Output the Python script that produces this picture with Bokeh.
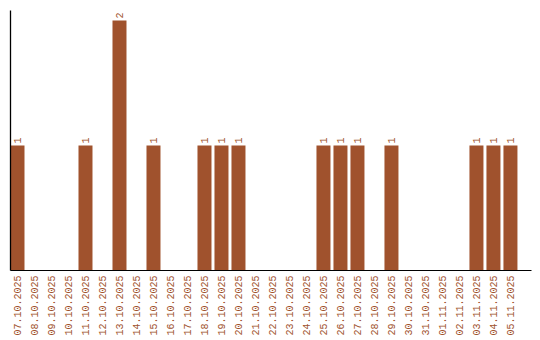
import math
from bokeh.plotting import figure
from bokeh.models import Range1d, FixedTicker, ColumnDataSource
from bokeh.core.properties import value
from bokeh.embed import file_html
from bokeh.resources import INLINE

dates = ["07.10.2025", "08.10.2025", "09.10.2025", "10.10.2025", "11.10.2025",
         "12.10.2025", "13.10.2025", "14.10.2025", "15.10.2025", "16.10.2025",
         "17.10.2025", "18.10.2025", "19.10.2025", "20.10.2025", "21.10.2025",
         "22.10.2025", "23.10.2025", "24.10.2025", "25.10.2025", "26.10.2025",
         "27.10.2025", "28.10.2025", "29.10.2025", "30.10.2025", "31.10.2025",
         "01.11.2025", "02.11.2025", "03.11.2025", "04.11.2025", "05.11.2025"]
counts = [1, 0, 0, 0, 1, 0, 2, 0, 1, 0, 0, 1, 1, 1, 0, 0, 0, 0, 1, 1, 1, 0, 1,
          0, 0, 0, 0, 1, 1, 1]

COLOR = "#A0522D"
FONT = "Liberation Mono"
BW = 14 / 17

idx = list(range(len(dates)))
centers = [i + BW / 2 for i in idx]

p = figure(frame_width=521, frame_height=260, output_backend="svg",
           toolbar_location=None,
           x_range=Range1d(0, 30.65), y_range=Range1d(0, 2.08),
           min_border_left=10, min_border_right=9, min_border_top=10,
           min_border_bottom=0)
p.outline_line_color = None
p.xgrid.visible = False
p.ygrid.visible = False

src = ColumnDataSource(dict(x=centers, top=counts))
p.vbar(x="x", top="top", width=BW, bottom=0, source=src,
       fill_color=COLOR, line_color=None)

lab_x = [c for c, v in zip(centers, counts) if v > 0]
lab_y = [v for v in counts if v > 0]
lab_t = [str(v) for v in counts if v > 0]
p.text(x=lab_x, y=lab_y, text=lab_t, angle=math.pi / 2, y_offset=-2,
       text_align="left", text_baseline="middle", text_color=COLOR,
       text_font=value(FONT), text_font_size="10px")

xa = p.xaxis[0]
xa.ticker = FixedTicker(ticks=centers)
xa.major_label_overrides = {c: d for c, d in zip(centers, dates)}
xa.major_label_orientation = math.pi / 2
xa.major_label_text_font = FONT
xa.major_label_text_font_size = "10px"
xa.major_label_text_color = COLOR
xa.major_tick_line_color = None
xa.minor_tick_line_color = None
xa.major_tick_out = 0
xa.major_label_standoff = 5
xa.axis_line_color = "black"
xa.axis_line_width = 1

ya = p.yaxis[0]
ya.ticker = FixedTicker(ticks=[])
ya.major_tick_line_color = None
ya.minor_tick_line_color = None
ya.major_tick_out = 0
ya.major_label_standoff = 0
ya.axis_line_color = "black"
ya.axis_line_width = 1.3

open("out.html", "w").write(file_html(p, INLINE))
